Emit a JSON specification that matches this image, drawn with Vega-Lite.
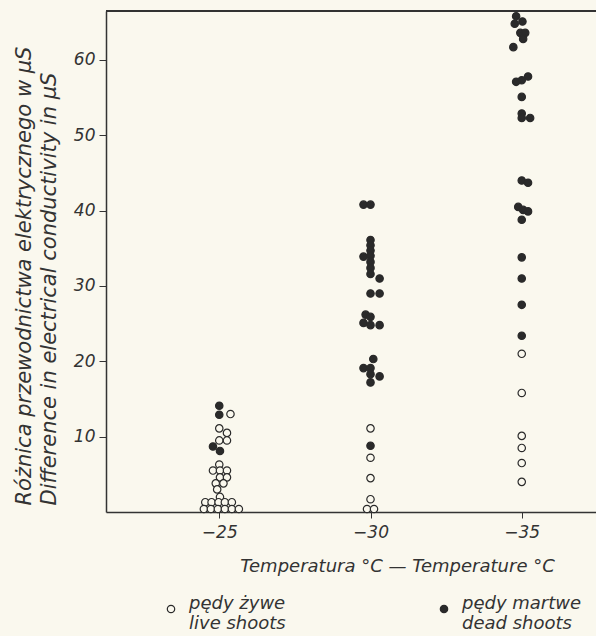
{
  "$schema": "https://vega.github.io/schema/vega-lite/v6.json",
  "width": 490,
  "height": 501,
  "autosize": {"type": "none"},
  "padding": {"left": 106, "top": 11, "right": 0, "bottom": 124},
  "background": "#FAF8EE",
  "config": {"view": {"stroke": null}, "font": "DejaVu Sans"},
  "data": {
    "values": [
      {"t": "-25", "v": 13.0, "s": "live", "k": 1.6},
      {"t": "-25", "v": 11.1, "s": "live", "k": 0},
      {"t": "-25", "v": 10.5, "s": "live", "k": 1.1},
      {"t": "-25", "v": 9.5, "s": "live", "k": 0},
      {"t": "-25", "v": 9.5, "s": "live", "k": 1.1},
      {"t": "-25", "v": 6.3, "s": "live", "k": 0},
      {"t": "-25", "v": 5.5, "s": "live", "k": -0.9},
      {"t": "-25", "v": 5.5, "s": "live", "k": 0.1},
      {"t": "-25", "v": 5.5, "s": "live", "k": 1.1},
      {"t": "-25", "v": 4.6, "s": "live", "k": 0.1},
      {"t": "-25", "v": 4.6, "s": "live", "k": 1.1},
      {"t": "-25", "v": 3.8, "s": "live", "k": -0.5},
      {"t": "-25", "v": 3.8, "s": "live", "k": 0.6},
      {"t": "-25", "v": 3.0, "s": "live", "k": -0.3},
      {"t": "-25", "v": 2.0, "s": "live", "k": 0.1},
      {"t": "-25", "v": 1.3, "s": "live", "k": -2},
      {"t": "-25", "v": 1.3, "s": "live", "k": -1.1},
      {"t": "-25", "v": 1.3, "s": "live", "k": -0.1},
      {"t": "-25", "v": 1.3, "s": "live", "k": 0.8},
      {"t": "-25", "v": 1.3, "s": "live", "k": 1.8},
      {"t": "-25", "v": 0.4, "s": "live", "k": -2.2},
      {"t": "-25", "v": 0.4, "s": "live", "k": -1.2},
      {"t": "-25", "v": 0.4, "s": "live", "k": -0.2},
      {"t": "-25", "v": 0.4, "s": "live", "k": 0.8},
      {"t": "-25", "v": 0.4, "s": "live", "k": 1.8},
      {"t": "-25", "v": 0.4, "s": "live", "k": 2.8},
      {"t": "-25", "v": 14.1, "s": "dead", "k": 0},
      {"t": "-25", "v": 12.9, "s": "dead", "k": 0},
      {"t": "-25", "v": 8.7, "s": "dead", "k": -0.9},
      {"t": "-25", "v": 8.1, "s": "dead", "k": 0.1},
      {"t": "-30", "v": 40.8, "s": "dead", "k": -1},
      {"t": "-30", "v": 40.8, "s": "dead", "k": 0},
      {"t": "-30", "v": 36.1, "s": "dead", "k": 0},
      {"t": "-30", "v": 35.4, "s": "dead", "k": 0},
      {"t": "-30", "v": 34.7, "s": "dead", "k": 0},
      {"t": "-30", "v": 33.9, "s": "dead", "k": -1},
      {"t": "-30", "v": 34.0, "s": "dead", "k": 0},
      {"t": "-30", "v": 33.2, "s": "dead", "k": 0},
      {"t": "-30", "v": 32.4, "s": "dead", "k": 0},
      {"t": "-30", "v": 31.6, "s": "dead", "k": 0},
      {"t": "-30", "v": 31.0, "s": "dead", "k": 1.3},
      {"t": "-30", "v": 29.0, "s": "dead", "k": 0},
      {"t": "-30", "v": 29.0, "s": "dead", "k": 1.3},
      {"t": "-30", "v": 26.2, "s": "dead", "k": -0.7},
      {"t": "-30", "v": 25.9, "s": "dead", "k": 0},
      {"t": "-30", "v": 25.1, "s": "dead", "k": -1},
      {"t": "-30", "v": 24.8, "s": "dead", "k": 0},
      {"t": "-30", "v": 24.8, "s": "dead", "k": 1.3},
      {"t": "-30", "v": 20.3, "s": "dead", "k": 0.4},
      {"t": "-30", "v": 19.1, "s": "dead", "k": -1},
      {"t": "-30", "v": 19.1, "s": "dead", "k": 0},
      {"t": "-30", "v": 18.3, "s": "dead", "k": 0},
      {"t": "-30", "v": 18.0, "s": "dead", "k": 1.3},
      {"t": "-30", "v": 17.2, "s": "dead", "k": 0},
      {"t": "-30", "v": 8.8, "s": "dead", "k": 0},
      {"t": "-30", "v": 11.1, "s": "live", "k": 0},
      {"t": "-30", "v": 7.2, "s": "live", "k": 0},
      {"t": "-30", "v": 4.5, "s": "live", "k": 0},
      {"t": "-30", "v": 1.7, "s": "live", "k": 0},
      {"t": "-30", "v": 0.4, "s": "live", "k": -0.5},
      {"t": "-30", "v": 0.4, "s": "live", "k": 0.5},
      {"t": "-35", "v": 65.8, "s": "dead", "k": -0.8},
      {"t": "-35", "v": 65.1, "s": "dead", "k": 0.1},
      {"t": "-35", "v": 64.8, "s": "dead", "k": -1},
      {"t": "-35", "v": 63.6, "s": "dead", "k": -0.2},
      {"t": "-35", "v": 63.6, "s": "dead", "k": 0.5},
      {"t": "-35", "v": 62.8, "s": "dead", "k": 0.2},
      {"t": "-35", "v": 61.7, "s": "dead", "k": -1.2},
      {"t": "-35", "v": 57.8, "s": "dead", "k": 0.9},
      {"t": "-35", "v": 57.3, "s": "dead", "k": 0},
      {"t": "-35", "v": 57.1, "s": "dead", "k": -0.8},
      {"t": "-35", "v": 55.1, "s": "dead", "k": 0},
      {"t": "-35", "v": 52.9, "s": "dead", "k": 0},
      {"t": "-35", "v": 52.3, "s": "dead", "k": 0},
      {"t": "-35", "v": 52.3, "s": "dead", "k": 1.2},
      {"t": "-35", "v": 44.0, "s": "dead", "k": 0},
      {"t": "-35", "v": 43.7, "s": "dead", "k": 0.9},
      {"t": "-35", "v": 40.5, "s": "dead", "k": -0.5},
      {"t": "-35", "v": 40.1, "s": "dead", "k": 0.2},
      {"t": "-35", "v": 39.9, "s": "dead", "k": 0.9},
      {"t": "-35", "v": 38.8, "s": "dead", "k": 0},
      {"t": "-35", "v": 33.8, "s": "dead", "k": 0},
      {"t": "-35", "v": 31.0, "s": "dead", "k": 0},
      {"t": "-35", "v": 27.5, "s": "dead", "k": 0},
      {"t": "-35", "v": 23.4, "s": "dead", "k": 0},
      {"t": "-35", "v": 21.0, "s": "live", "k": 0},
      {"t": "-35", "v": 15.8, "s": "live", "k": 0},
      {"t": "-35", "v": 10.1, "s": "live", "k": 0},
      {"t": "-35", "v": 8.5, "s": "live", "k": 0},
      {"t": "-35", "v": 6.5, "s": "live", "k": 0},
      {"t": "-35", "v": 4.0, "s": "live", "k": 0}
    ]
  },
  "layer": [
    {
      "mark": {"type": "point", "shape": "circle", "size": 55, "filled": true, "opacity": 1, "stroke": "#2a2a2a", "strokeWidth": 1.2},
      "encoding": {
        "x": {
          "field": "t",
          "type": "ordinal",
          "sort": ["-25", "-30", "-35"],
          "scale": {"type": "point", "padding": 0.62, "align": 0.604},
          "axis": {
            "labelExpr": "replace(datum.label, '-', '−')",
            "labelAngle": 0,
            "labelFontSize": 17,
            "labelFontStyle": "italic",
            "labelColor": "#333333",
            "labelPadding": 6,
            "tickSize": 6,
            "tickColor": "#333333",
            "domainColor": "#333333",
            "domainWidth": 1.5,
            "grid": false,
            "title": "Temperatura °C — Temperature °C",
            "titleFontSize": 18,
            "titleFontStyle": "italic",
            "titleFontWeight": "normal",
            "titleColor": "#333333",
            "titleX": 291,
            "titleY": 54,
            "titleAlign": "center",
            "titleBaseline": "middle"
          }
        },
        "xOffset": {"field": "k", "type": "quantitative", "scale": {"domain": [-1, 1], "range": [-7, 7]}},
        "y": {
          "field": "v",
          "type": "quantitative",
          "scale": {"domain": [0, 66.5], "nice": false},
          "axis": {
            "values": [10, 20, 30, 40, 50, 60],
            "labelFontSize": 17,
            "labelFontStyle": "italic",
            "labelColor": "#333333",
            "labelPadding": 4,
            "tickSize": 7,
            "tickColor": "#333333",
            "domainColor": "#333333",
            "domainWidth": 1.5,
            "grid": false,
            "title": ["Różnica przewodnictwa elektrycznego w µS", "Difference in electrical conductivity in µS"],
            "titleFontSize": 21,
            "titleFontStyle": "italic",
            "titleFontWeight": "normal",
            "titleColor": "#333333",
            "titleLineHeight": 25,
            "titlePadding": 14,
            "titleAnchor": "start",
            "titleY": 494
          }
        },
        "fill": {
          "field": "s",
          "type": "nominal",
          "scale": {"domain": ["live", "dead"], "range": ["#FAF8EE", "#2a2a2a"]},
          "legend": {
            "orient": "none",
            "legendX": 56,
            "legendY": 589,
            "direction": "horizontal",
            "title": null,
            "symbolType": "circle",
            "symbolSize": 55,
            "symbolStrokeColor": "#2a2a2a",
            "symbolStrokeWidth": 1.2,
            "labelFontSize": 18,
            "labelFontStyle": "italic",
            "labelColor": "#333333",
            "labelExpr": "datum.value == 'live' ? ['pędy żywe', 'live shoots'] : ['pędy martwe', 'dead shoots']",
            "labelLineHeight": 25,
            "labelBaseline": "alphabetic",
            "labelOffset": 9,
            "labelLimit": 300,
            "columnPadding": 149,
            "padding": 0
          }
        }
      }
    },
    {
      "mark": {"type": "rule", "color": "#333333", "strokeWidth": 1.5},
      "encoding": {"y": {"datum": 66.5, "type": "quantitative"}}
    }
  ]
}
